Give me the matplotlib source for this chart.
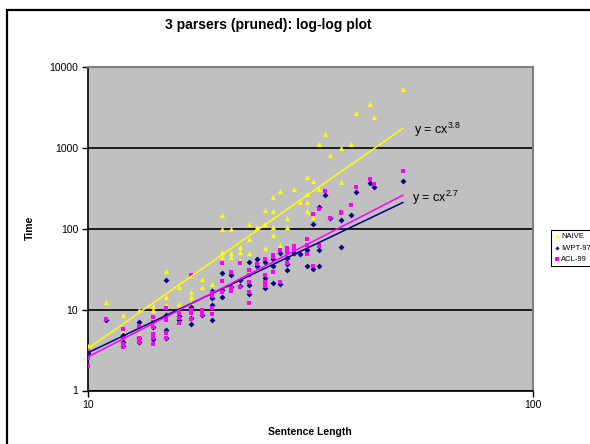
import matplotlib
matplotlib.use('Agg')
import matplotlib.pyplot as plt
from matplotlib.patches import Rectangle
import numpy as np

plt.rcParams['font.family'] = ['Liberation Sans', 'DejaVu Sans']
plt.rcParams['mathtext.default'] = 'regular'

#DATA (sentence length, time)
naive_len = [10, 11, 12, 12, 13, 13, 14, 14, 15, 15, 15, 16, 16, 17, 17, 17, 17, 18, 18, 19,
             20, 20, 20, 20, 21, 21, 21, 22, 22, 22, 23, 23, 23, 24, 25, 25, 25, 26, 26, 26, 26,
             27, 27, 28, 28, 29, 30, 31, 31, 31, 31, 32, 32, 33, 33, 34, 35, 37, 37, 39, 40,
             43, 44, 51]
naive_time = [3.5, 12.3, 8.5, 5.5, 10, 4.8, 11, 10, 30, 14.4, 11.4, 19, 11.7, 27, 16.6, 14.4, 12.5, 23.8, 18.8, 20.5,
              148, 98, 52, 45, 100, 50, 44, 58.6, 52, 41, 113, 74, 50, 105, 169, 113, 58, 243, 163, 103, 84,
              290, 62.5, 134, 105, 305, 214, 432, 267, 214, 166, 389, 137, 1113, 304, 1480, 800, 978, 372, 1113, 2640,
              3414, 2360, 5300]

iwpt_len = [10, 11, 12, 12, 12, 13, 13, 13, 14, 14, 15, 15, 15, 15, 16, 16, 17, 17, 17, 18,
            19, 19, 19, 19, 20, 20, 20, 21, 21, 22, 22, 23, 23, 23, 24, 24, 25, 25, 25, 26, 26, 26,
            27, 27, 28, 28, 28, 29, 30, 31, 31, 32, 32, 33, 33, 33, 34, 35, 37, 37, 39, 40, 43, 44, 51]
iwpt_time = [2.9, 7.5, 4.8, 4.0, 3.5, 7.1, 4.5, 4.0, 6.0, 4.3, 23, 8.5, 5.6, 4.5, 8.3, 7.4, 10.8, 7.9, 6.6, 8.5,
             17, 13.9, 11.4, 7.4, 28.5, 17.4, 14.4, 26.6, 19, 23, 19.5, 39, 20, 15.5, 42, 34, 39, 24.6, 18.4, 42, 34, 21,
             50, 20.5, 43, 36, 30.7, 50, 48, 55, 34.7, 113, 31.6, 186, 54, 34, 259, 134, 129, 58.6, 148, 280, 368, 324, 386]

acl_len = [10, 10, 10, 11, 12, 12, 12, 12, 13, 13, 13, 14, 14, 14, 14, 14, 14, 15, 15, 15, 15,
           16, 16, 16, 17, 17, 17, 17, 18, 18, 18, 19, 19, 19, 19, 20, 20, 20, 21, 21, 21, 22, 22,
           23, 23, 23, 23, 23, 24, 25, 25, 25, 25, 26, 26, 26, 27, 27, 28, 28, 28, 29, 29,
           31, 31, 31, 32, 32, 33, 33, 33, 34, 35, 37, 37, 39, 40, 43, 44, 51]
acl_time = [3.3, 2.5, 2.0, 7.6, 5.7, 4.4, 3.8, 3.4, 6.3, 4.4, 4.0, 8.1, 7, 6, 5, 4.5, 3.8, 10.4, 7.4, 5.1, 4.4,
            9, 7.8, 6.8, 27, 9.8, 9, 7.6, 9.8, 9.2, 8.5, 16, 14.6, 10.4, 8.8, 37, 22.5, 16.6, 29.4, 18.4, 17, 37, 19,
            31, 27, 22, 16.6, 12.1, 36, 41.6, 27, 22, 19.6, 47, 45, 29.4, 55, 22, 57, 52, 38, 60, 54,
            74, 62.5, 49, 151, 34.7, 173, 62.5, 60, 290, 134, 160, 155, 197, 328, 405, 355, 510]

#POWER TRENDLINES: (value at length 10, exponent)
naive_fit = (3.3, 3.84)
iwpt_fit = (2.93, 2.62)
acl_fit = (2.6, 2.82)
fit_range = (10, 51)

fig = plt.figure(figsize=(5.9, 4.44), dpi=100)
fig.patches.append(Rectangle((7/590, -0.1), 1.2, 1.1 - 10/444, transform=fig.transFigure,
                             fill=False, edgecolor='black', linewidth=1.6))

ax = fig.add_axes([88/590, 1 - 390.5/444, (533-88)/590, (390.5-66.5)/444])
ax.set_facecolor('#C0C0C0')
ax.set_xscale('log')
ax.set_yscale('log')
ax.set_xlim(10, 100)
ax.set_ylim(1, 10000)

ax.set_yticks([1, 10, 100, 1000, 10000])
ax.set_yticklabels(['1', '10', '100', '1000', '10000'])
ax.set_xticks([10, 100])
ax.set_xticklabels(['10', '100'])
ax.minorticks_off()
ax.tick_params(labelsize=7.5, length=4, width=1, direction='out', pad=3)
ax.grid(True, axis='y', color='black', linewidth=1.2)
ax.set_axisbelow(True)
for s in ['top', 'right']:
    ax.spines[s].set_color('#808080')
    ax.spines[s].set_linewidth(1.5)
for s in ['left', 'bottom']:
    ax.spines[s].set_color('black')
    ax.spines[s].set_linewidth(1.2)

ax.scatter(naive_len, naive_time, marker='^', s=14, color='#FFFF00', linewidths=0, label='NAIVE', zorder=3)
ax.scatter(iwpt_len, iwpt_time, marker='D', s=9, color='#000080', linewidths=0, label='IWPT-97', zorder=3)
ax.scatter(acl_len, acl_time, marker='s', s=10, color='#FF00FF', linewidths=0, label='ACL-99', zorder=3)

L = np.linspace(fit_range[0], fit_range[1], 100)
for (v10, k), c in [(naive_fit, '#FFFF00'), (iwpt_fit, '#000080'), (acl_fit, '#FF00FF')]:
    ax.plot(L, v10 * (L / 10) ** k, color=c, linewidth=1.1, zorder=4)

ax.text(54, 1644, r'y = cx$^{3.8}$', fontsize=9, ha='left', va='center')
ax.text(53.5, 238, r'y = cx$^{2.7}$', fontsize=9, ha='left', va='center')

fig.text(268/590, 1 - 25/444, '3 parsers (pruned): log-log plot', ha='center', va='center',
         fontsize=10, fontweight='bold')
fig.text(30/590, 1 - 228/444, 'Time', rotation=90, ha='center', va='center', fontsize=7.5, fontweight='bold')
fig.text(310/590, 1 - 432/444, 'Sentence Length', ha='center', va='center', fontsize=7.5, fontweight='bold')

leg = fig.legend(loc='upper left', bbox_to_anchor=(551/590, 1 - 230/444), fontsize=5.5,
                 frameon=True, fancybox=False, edgecolor='black', framealpha=1,
                 handletextpad=0.1, handlelength=0.8, borderpad=0.4, labelspacing=0.5,
                 markerscale=0.7, borderaxespad=0)
leg.get_frame().set_linewidth(0.8)

fig.savefig('out.png', dpi=100)
